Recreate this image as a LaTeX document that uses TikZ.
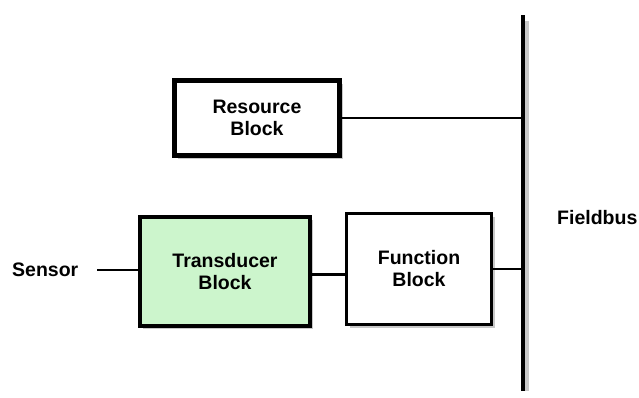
\documentclass[tikz,border=0pt]{standalone}
\usepackage{fontspec}
\setmainfont{Liberation Sans}
\usetikzlibrary{shadows}
\definecolor{transgreen}{RGB}{204,245,204}
\definecolor{shadowgray}{RGB}{200,200,200}
\tikzset{
  blockbox/.style={draw=black, fill=white, align=center, inner sep=0pt,
    font=\fontsize{19.5}{22}\selectfont\bfseries,
    drop shadow={shadow xshift=3pt, shadow yshift=-3pt, fill=shadowgray, opacity=1}},
  label/.style={font=\fontsize{19.5}{22}\selectfont\bfseries, inner sep=0pt},
  wire/.style={draw=black, line width=2.5pt},
  bus/.style={draw=black, line width=4pt}
}
\begin{document}
\begin{tikzpicture}[x=1pt, y=-1pt]
  \useasboundingbox (0,0) rectangle (639,397);
  \fill[white] (0,0) rectangle (639,397);

  % blocks
  \node[blockbox, line width=4.5pt, minimum width=165pt, minimum height=75pt]
    (res) at (257,118) {Resource\\Block};
  \node[blockbox, fill=transgreen, line width=4pt, minimum width=170pt, minimum height=109pt]
    (trans) at (225,271.5) {Transducer\\Block};
  \node[blockbox, line width=3.5pt, minimum width=145pt, minimum height=111pt]
    (func) at (419,269) {Function\\Block};

  % texts
  \node[label, anchor=west] (sensor) at (12,270) {Sensor};
  \node[label, anchor=west] (fieldbus) at (557,218) {Fieldbus};

  % fieldbus line with its shadow
  \coordinate (bustop) at (523,15);
  \coordinate (busbot) at (523,391);
  \fill[shadowgray] ([xshift=2pt,yshift=-6pt]bustop) rectangle ([xshift=6pt]busbot);
  \draw[bus] (bustop) -- (busbot);

  % connectors
  \coordinate (sensorend) at (97,270);
  \draw[wire] (sensorend) -- (sensorend -| trans.west);
  \draw[wire] ([yshift=-3pt]trans.east) -- ([yshift=-3pt]trans.east -| func.west);
  \draw[wire] (func.east) -- (func.east -| bustop);
  \draw[wire] (res.east) -- (res.east -| bustop);
\end{tikzpicture}
\end{document}
